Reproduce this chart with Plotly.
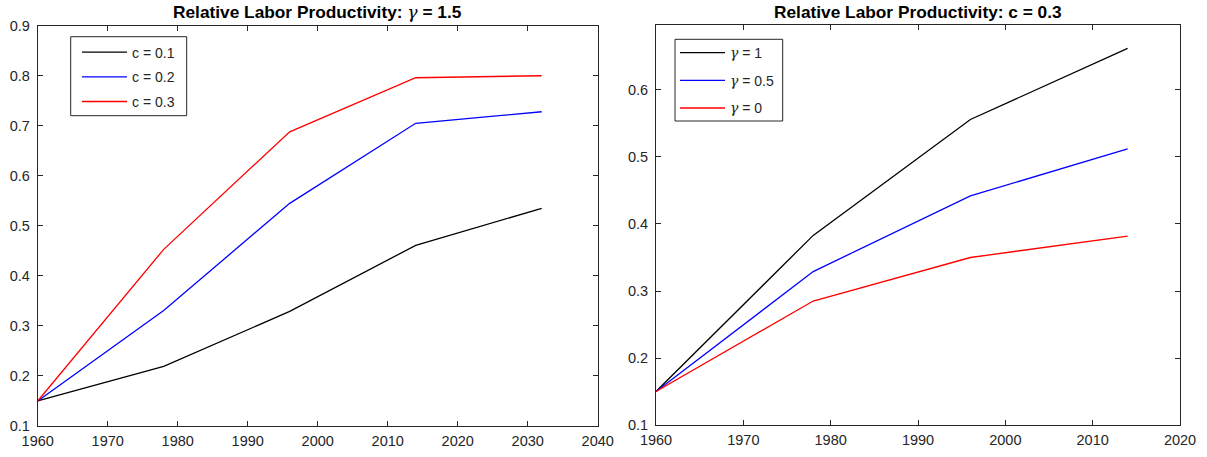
import plotly.graph_objects as go

years_left = [1960, 1978, 1996, 2014, 2032]
c01 = [0.15, 0.219, 0.329, 0.461, 0.535]
c02 = [0.15, 0.331, 0.545, 0.705, 0.728]
c03 = [0.15, 0.453, 0.688, 0.796, 0.800]

years_right = [1960, 1978, 1996, 2014]
g1 = [0.15, 0.383, 0.556, 0.662]
g05 = [0.15, 0.329, 0.442, 0.512]
g0 = [0.15, 0.285, 0.350, 0.382]

GAM = "<span style=\"font-family:'DejaVu Serif'\"><i>γ</i></span>"
left_names = ["c = 0.1", "c = 0.2", "c = 0.3"]
right_names = [GAM + " = 1", GAM + " = 0.5", GAM + " = 0"]
colors = ["#000000", "#0000ff", "#ff0000"]

W, H = 1207, 457
FONT = "Liberation Sans, Arial, Helvetica, sans-serif"
AX = "#262626"

fig = go.Figure()
for i, (ys, nm) in enumerate(zip([c01, c02, c03], left_names)):
    fig.add_trace(go.Scatter(x=years_left, y=ys, mode="lines", name=nm,
                             line=dict(color=colors[i], width=1.3),
                             xaxis="x", yaxis="y", legend="legend",
                             legendgroup="L%d" % i))
for i, (ys, nm) in enumerate(zip([g1, g05, g0], right_names)):
    fig.add_trace(go.Scatter(x=years_right, y=ys, mode="lines", name=nm,
                             line=dict(color=colors[i], width=1.3),
                             xaxis="x2", yaxis="y2", legend="legend2",
                             legendgroup="R%d" % i))

def px_x(p):
    return p / W

def px_y(p):
    return 1 - p / H

axis_common = dict(showline=True, linecolor=AX, linewidth=1, mirror="ticks",
                   ticks="inside", ticklen=5, tickcolor=AX, tickwidth=1,
                   showgrid=False, zeroline=False, automargin=False,
                   tickfont=dict(family=FONT, size=14.5, color=AX))

fig.update_layout(
    width=W, height=H,
    margin=dict(l=0, r=0, t=0, b=0),
    paper_bgcolor="white", plot_bgcolor="white",
    font=dict(family=FONT, color=AX),
    xaxis=dict(domain=[px_x(37.7), px_x(597.7)], range=[1960, 2040],
               tickmode="linear", tick0=1960, dtick=10, anchor="y",
               ticklabelstandoff=2, **axis_common),
    yaxis=dict(domain=[px_y(426), px_y(25.7)], range=[0.1, 0.9],
               tickmode="linear", tick0=0.1, dtick=0.1, tickformat=".1f",
               anchor="x", ticklabelstandoff=4, **axis_common),
    xaxis2=dict(domain=[px_x(656), px_x(1180)], range=[1960, 2020],
                tickmode="linear", tick0=1960, dtick=10, anchor="y2",
                ticklabelstandoff=2, **axis_common),
    yaxis2=dict(domain=[px_y(425), px_y(25)], range=[0.1, 0.697],
                tickmode="array", tickvals=[0.1, 0.2, 0.3, 0.4, 0.5, 0.6],
                ticktext=["0.1", "0.2", "0.3", "0.4", "0.5", "0.6"],
                anchor="x2", ticklabelstandoff=4, **axis_common),
    legend=dict(x=px_x(77), y=px_y(36.5), xanchor="left", yanchor="top",
                borderwidth=0, bgcolor="rgba(0,0,0,0)", itemwidth=45,
                font=dict(family=FONT, size=14, color=AX), tracegroupgap=3.5),
    legend2=dict(x=px_x(675), y=px_y(37), xanchor="left", yanchor="top",
                 borderwidth=0, bgcolor="rgba(0,0,0,0)", itemwidth=45,
                 font=dict(family=FONT, size=14, color=AX), tracegroupgap=6.5),
    showlegend=True,
    shapes=[
        dict(type="rect", xref="paper", yref="paper", layer="above",
             x0=px_x(70.7), x1=px_x(186.7), y0=px_y(115.7), y1=px_y(36.7),
             line=dict(color=AX, width=1), fillcolor="white"),
        dict(type="rect", xref="paper", yref="paper", layer="above",
             x0=px_x(675), x1=px_x(782.7), y0=px_y(121), y1=px_y(39.3),
             line=dict(color=AX, width=1), fillcolor="white"),
    ],
    annotations=[
        dict(text="<b>Relative Labor Productivity: </b>" + GAM + "<b> = 1.5</b>",
             x=(px_x(37.7) + px_x(597.7)) / 2,
             y=px_y(12), xref="paper", yref="paper", xanchor="center", yanchor="middle",
             showarrow=False, font=dict(family=FONT, size=17.3, color="#000000")),
        dict(text="<b>Relative Labor Productivity: c = 0.3</b>", x=(px_x(656) + px_x(1180)) / 2,
             y=px_y(12), xref="paper", yref="paper", xanchor="center", yanchor="middle",
             showarrow=False, font=dict(family=FONT, size=17.3, color="#000000")),
    ],
)

fig.write_html("out.html")
